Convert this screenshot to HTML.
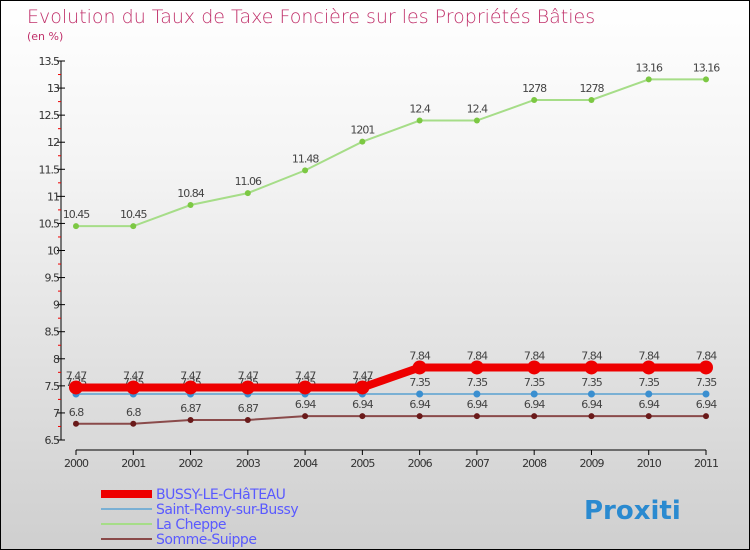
<!DOCTYPE html>
<html><head><meta charset="utf-8"><style>
body{margin:0}
#c{width:750px;height:550px;box-sizing:border-box;border:1px solid #000;background:linear-gradient(#fff,#f4f4f4 30%,#cfcfcf);position:relative;font-family:"DejaVu Sans","Liberation Sans",sans-serif}
</style></head><body>
<div id="c">
<svg id="s" width="748" height="548" style="position:absolute;left:0;top:0">
<text x="26" y="22" font-size="19" fill="#c0306a" font-family="DejaVu Sans, sans-serif" font-weight="200">Evolution du Taux de Taxe Foncière sur les Propriétés Bâties</text>
<text x="26" y="39" font-size="11" fill="#c0306a">(en %)</text>
</svg>
</div>
<script>
const years=[2000,2001,2002,2003,2004,2005,2006,2007,2008,2009,2010,2011];
const bussy=[7.47,7.47,7.47,7.47,7.47,7.47,7.84,7.84,7.84,7.84,7.84,7.84];
const saintRemy=[7.35,7.35,7.35,7.35,7.35,7.35,7.35,7.35,7.35,7.35,7.35,7.35];
const laCheppe=[10.45,10.45,10.84,11.06,11.48,12.01,12.4,12.4,12.78,12.78,13.16,13.16];
const sommeSuippe=[6.8,6.8,6.87,6.87,6.94,6.94,6.94,6.94,6.94,6.94,6.94,6.94];
const yTicks=[6.5,7,7.5,8,8.5,9,9.5,10,10.5,11,11.5,12,12.5,13,13.5];
const s=document.getElementById('s');const NS='http://www.w3.org/2000/svg';
function X(i){return 75+i*(630/(years.length-1));}
function Y(v){return 439-(v-6.5)*(379/7);}
function el(t,a,p){const e=document.createElementNS(NS,t);for(const k in a)e.setAttribute(k,a[k]);(p||s).appendChild(e);return e;}
let ax=el('line',{x1:60,y1:Y(13.5),x2:60,y2:Y(6.5),stroke:'#000'});


let xa=el('line',{x1:75,y1:449,x2:705,y2:449,stroke:'#000'});


yTicks.forEach((v,i)=>{
 el('line',{x1:56,x2:64,y1:Y(v),y2:Y(v),stroke:'#000'});
 if(i<yTicks.length-1)el('line',{x1:57,x2:60,y1:Y(v+0.25),y2:Y(v+0.25),stroke:'#e00'});
 const t=el('text',{x:58,y:Y(v)+4,'font-size':11,'text-anchor':'end',fill:'#333','letter-spacing':'-1'});t.textContent=v;
 
 
});
years.forEach((y,i)=>{
 el('line',{x1:X(i),x2:X(i),y1:449,y2:454,stroke:'#000'});
 const t=el('text',{x:X(i),y:466,'font-size':11,'text-anchor':'middle',fill:'#333','letter-spacing':'-1'});t.textContent=y;
 
 
});
function series(data,color,w,r,dot,name,lab){
 const g=el('g',{});
 
 
 el('polyline',{points:data.map((v,i)=>X(i)+','+Y(v)).join(' '),fill:'none',stroke:color,'stroke-width':w},g);
 data.forEach((v,i)=>{
  el('circle',{cx:X(i),cy:Y(v),r:r,fill:dot},g);
  const t=el('text',{x:X(i),y:Y(v)-8,'font-size':11,'text-anchor':'middle',fill:'#444','letter-spacing':'-1'},g);t.textContent=String(v).replace('.01','01').replace('12.78','1278');
  
  
 });
}
series(laCheppe,'#a6dd88',2,3,'#7cc843','series-la-cheppe');
series(sommeSuippe,'#8a4a4a',2,3,'#6a1a1a','series-somme-suippe');
series(saintRemy,'#7ab0d4',2,3.5,'#3a8fd0','series-saint-remy');
series(bussy,'#ee0000',8,7,'#ee0000','series-bussy');
const leg=[['BUSSY-LE-CHâTEAU','#ee0000',8],['Saint-Remy-sur-Bussy','#7ab0d4',2],['La Cheppe','#a6dd88',2],['Somme-Suippe','#8a4a4a',2]];
leg.forEach((l,i)=>{
 const g=el('g',{});
 
 
 const y=493+i*15;
 el('line',{x1:100,x2:151,y1:y,y2:y,stroke:l[1],'stroke-width':l[2]},g);
 const t=el('text',{x:155,y:y+5,'font-size':14,fill:'#5a5aff','letter-spacing':'-0.5'},g);t.textContent=l[0];
});
const p=el('text',{x:583,y:518,'font-size':26,'font-weight':'bold',fill:'#2a8ad0'});p.textContent='Proxiti';


</script>
</body></html>
